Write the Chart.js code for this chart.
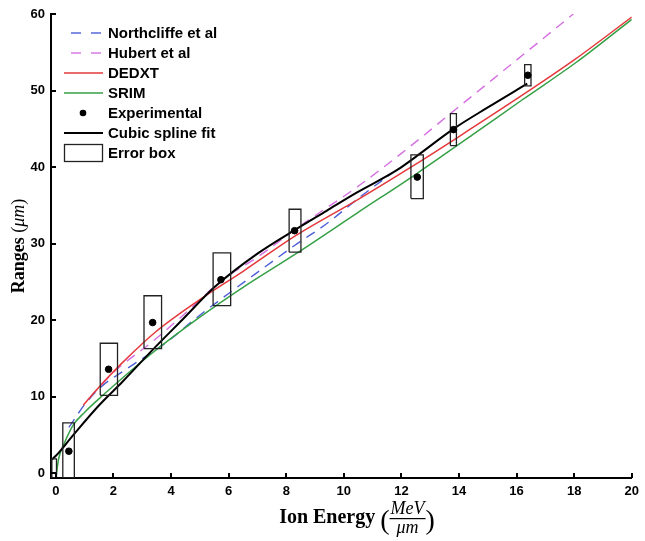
<!DOCTYPE html>
<html>
<head>
<meta charset="utf-8">
<script src="https://cdn.jsdelivr.net/npm/chart.js@4.4.0/dist/chart.umd.min.js"></script>
<style>
  html, body { margin: 0; padding: 0; background: #fff; }
  #wrap { width: 645px; height: 541px; }
</style>
</head>
<body>
<div id="wrap"><canvas id="c" width="645" height="541"></canvas></div>
<script>
// values (energy in MeV/um, range in um)
const northcliffeE = [0.45, 1.0, 1.63, 2.32, 3.9, 4.84, 6.0, 7.2, 8.3, 9.4, 10.46, 11.7]
const northcliffeR = [6.0, 9.0, 11.5, 13.3, 17.3, 20.2, 23.5, 26.8, 29.8, 32.6, 35.8, 39.3]

const hubertE = [1.2, 2.0, 3.35, 4.61, 5.76, 7.02, 8.51, 10.46, 12.0, 14.0, 16.43, 17.97]
const hubertR = [10.0, 13.2, 17.2, 21.3, 25.2, 28.3, 32.4, 37.4, 41.8, 47.9, 55.3, 60.0]

const dedxtE = [0.95, 1.5, 2.32, 3.47, 4.96, 6.5, 8.3, 10.5, 12.5, 14.0, 16.0, 18.0, 20.0]
const dedxtR = [8.9, 11.3, 14.5, 18.5, 22.6, 26.4, 31.0, 35.8, 40.4, 44.0, 48.9, 54.0, 59.6]

const srimE = [0.0, 0.1, 0.3, 0.6, 1.0, 1.63, 3.24, 4.96, 6.5, 8.3, 10.46, 12.55, 14.5, 16.2, 18.04, 20.0]
const srimR = [-0.6, 2.0, 4.0, 6.3, 8.0, 10.2, 15.4, 20.3, 24.3, 28.6, 34.0, 39.2, 44.3, 48.8, 53.6, 59.3]

const splineE = [-0.15, 0.0, 0.6, 1.5, 2.32, 3.35, 4.4, 5.53, 7.0, 8.3, 9.4, 10.46, 11.84, 12.55, 13.81, 15.0, 16.37]
const splineR = [1.8, 2.3, 5.0, 8.9, 12.0, 16.1, 20.1, 24.4, 28.7, 31.8, 34.3, 36.7, 39.6, 41.5, 45.0, 47.8, 50.9]

const expE = [0.45, 1.83, 3.36, 5.73, 8.29, 12.55, 13.81, 16.39]
const expR = [2.9, 13.6, 19.7, 25.3, 31.7, 38.7, 44.9, 52.0]

// error boxes: energy bounds and range bounds
const boxLeft  = [-0.14, 0.24, 1.54, 3.06, 5.46, 8.10, 12.33, 13.70, 16.28]
const boxRight = [0.02, 0.64, 2.14, 3.67, 6.07, 8.51, 12.76, 13.91, 16.50]
const boxLow   = [-0.6, -0.6, 10.2, 16.3, 21.9, 28.9, 35.9, 42.8, 50.6]
const boxHigh  = [1.9, 6.6, 17.0, 23.2, 28.8, 34.5, 41.6, 47.0, 53.4]

const xTicks = [0, 2, 4, 6, 8, 10, 12, 14, 16, 18, 20]
const yTicks = [0, 10, 20, 30, 40, 50, 60]

function pts(xs, ys) {
    return xs.map(function (x, i) { return { x: x, y: ys[i] } })
}

const boxPath = []
boxLeft.forEach(function (l, i) {
    const r = boxRight[i], b = boxLow[i], t = boxHigh[i]
    boxPath.push({ x: l, y: b }, { x: r, y: b }, { x: r, y: t }, { x: l, y: t }, { x: l, y: b }, { x: l, y: null })
})

function curve(label, xs, ys, color, dash, width, order) {
    return {
        label: label,
        data: pts(xs, ys),
        showLine: true,
        borderColor: color,
        backgroundColor: color,
        borderWidth: width,
        borderDash: dash,
        pointRadius: 0,
        cubicInterpolationMode: 'monotone',
        order: order
    }
}

const datasets = [
    curve('Northcliffe et al', northcliffeE, northcliffeR, '#4d5fd8', [10, 7], 1.4, 5),
    curve('Hubert et al', hubertE, hubertR, '#d66fe2', [10, 7], 1.4, 6),
    curve('DEDXT', dedxtE, dedxtR, '#e5383b', [], 1.5, 4),
    curve('SRIM', srimE, srimR, '#35a045', [], 1.5, 3),
    {
        label: 'Experimental',
        data: pts(expE, expR),
        showLine: false,
        pointRadius: 3.3,
        pointBackgroundColor: '#000',
        pointBorderColor: '#000',
        order: 0
    },
    curve('Cubic spline fit', splineE, splineR, '#000', [], 2, 2),
    {
        label: 'Error box',
        data: boxPath,
        showLine: true,
        borderColor: '#222',
        borderWidth: 1.3,
        pointRadius: 0,
        spanGaps: false,
        order: 1
    }
]

// ticks pointing into the plot, like the original
const inwardTicks = {
    id: 'inwardTicks',
    afterDraw: function (chart) {
        const ctx = chart.ctx, a = chart.chartArea
        const sx = chart.scales.x, sy = chart.scales.y
        ctx.save()
        ctx.strokeStyle = '#000'
        ctx.lineWidth = 2
        xTicks.forEach(function (v) {
            const p = Math.round(sx.getPixelForValue(v))
            ctx.beginPath(); ctx.moveTo(p, a.bottom); ctx.lineTo(p, a.bottom - 5); ctx.stroke()
        })
        yTicks.forEach(function (v) {
            const p = Math.round(sy.getPixelForValue(v))
            ctx.beginPath(); ctx.moveTo(a.left, p); ctx.lineTo(a.left + 5, p); ctx.stroke()
        })
        ctx.restore()
    }
}

// axis titles with italic units and a stacked fraction
const axisTitles = {
    id: 'axisTitles',
    afterDraw: function (chart) {
        const ctx = chart.ctx
        const serif = '"Liberation Serif", "DejaVu Serif", serif'
        ctx.save()
        ctx.fillStyle = '#000'
        ctx.textBaseline = 'alphabetic'

        // x title: Ion Energy (MeV / um)
        const fMain = 'bold 20px ' + serif
        const fFrac = 'italic 18px ' + serif
        const fPar = '28px ' + serif
        ctx.font = fMain
        const wMain = ctx.measureText('Ion Energy ').width
        ctx.font = fPar
        const wPar = ctx.measureText('(').width
        ctx.font = fFrac
        const wNum = ctx.measureText('MeV').width
        const wDen = ctx.measureText('\u03BCm').width
        const wFrac = Math.max(wNum, wDen) + 2
        const total = wMain + wPar * 2 + wFrac
        let x = 357 - total / 2
        const base = 523
        ctx.font = fMain
        ctx.textAlign = 'left'
        ctx.fillText('Ion Energy ', x, base)
        x += wMain
        ctx.font = fPar
        ctx.fillText('(', x, base + 6)
        x += wPar
        ctx.font = fFrac
        ctx.textAlign = 'center'
        ctx.fillText('MeV', x + wFrac / 2, 514)
        ctx.fillText('\u03BCm', x + wFrac / 2, 533)
        ctx.fillRect(x, 518, wFrac, 1.2)
        x += wFrac
        ctx.font = fPar
        ctx.textAlign = 'left'
        ctx.fillText(')', x, base + 6)

        // y title: Ranges (um)
        ctx.translate(24, 246)
        ctx.rotate(-Math.PI / 2)
        const parts = [['bold 18px ' + serif, 'Ranges '], ['18px ' + serif, '('], ['italic 18px ' + serif, '\u03BCm'], ['18px ' + serif, ')']]
        let w = 0
        parts.forEach(function (p) { ctx.font = p[0]; w += ctx.measureText(p[1]).width })
        let px = -w / 2
        ctx.textAlign = 'left'
        parts.forEach(function (p) {
            ctx.font = p[0]
            ctx.fillText(p[1], px, 0)
            px += ctx.measureText(p[1]).width
        })
        ctx.restore()
    }
}

// legend drawn in the upper left of the plot
const plotLegend = {
    id: 'plotLegend',
    afterDraw: function (chart) {
        const ctx = chart.ctx
        const rows = [33, 53, 73, 93, 113, 133, 153]
        ctx.save()
        chart.data.datasets.forEach(function (ds, i) {
            const yy = rows[i]
            ctx.strokeStyle = ds.borderColor || '#000'
            ctx.fillStyle = '#000'
            ctx.lineWidth = ds.borderWidth || 1.5
            if (ds.label === 'Experimental') {
                ctx.beginPath(); ctx.arc(83, yy, 3.3, 0, Math.PI * 2); ctx.fill()
            } else if (ds.label === 'Error box') {
                ctx.strokeRect(64.5, yy - 8.5, 38, 17)
            } else {
                ctx.setLineDash(ds.borderDash && ds.borderDash.length ? [10, 10] : [])
                ctx.lineDashOffset = ds.borderDash && ds.borderDash.length ? -7 : 0
                ctx.beginPath(); ctx.moveTo(64, yy); ctx.lineTo(103, yy); ctx.stroke()
                ctx.setLineDash([])
            }
            ctx.fillStyle = '#000'
            ctx.font = 'bold 15px "Liberation Sans", Arial, sans-serif'
            ctx.textAlign = 'left'
            ctx.textBaseline = 'middle'
            ctx.fillText(ds.label, 108, yy + 1)
        })
        ctx.restore()
    }
}

const tickFont = { family: '"Liberation Sans", Arial, sans-serif', size: 13, weight: 'bold' }

new Chart(document.getElementById('c'), {
    type: 'scatter',
    data: { datasets: datasets },
    options: {
        responsive: false,
        animation: false,
        devicePixelRatio: 1,
        layout: { padding: { top: 14, right: 8, left: 0, bottom: 0 } },
        plugins: { legend: { display: false }, tooltip: { enabled: false } },
        scales: {
            x: {
                type: 'linear',
                min: -0.17,
                max: 20,
                grid: { drawOnChartArea: false, drawTicks: false },
                border: { display: true, color: '#000', width: 2 },
                ticks: { color: '#000', font: tickFont, padding: 6, maxRotation: 0, autoSkip: false },
                afterBuildTicks: function (s) { s.ticks = xTicks.map(function (v) { return { value: v } }) },
                afterFit: function (s) { s.height = 63 }
            },
            y: {
                type: 'linear',
                min: -0.6,
                max: 60,
                grid: { drawOnChartArea: false, drawTicks: false },
                border: { display: true, color: '#000', width: 2 },
                ticks: { color: '#000', font: tickFont, padding: 6, autoSkip: false },
                afterBuildTicks: function (s) { s.ticks = yTicks.map(function (v) { return { value: v } }) },
                afterFit: function (s) { s.width = 51 }
            }
        }
    },
    plugins: [inwardTicks, axisTitles, plotLegend]
})
</script>
</body>
</html>
